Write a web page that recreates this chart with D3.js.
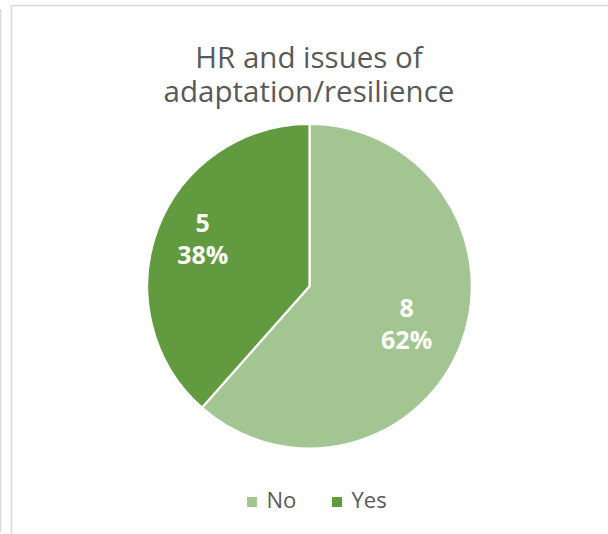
<!DOCTYPE html>
<html>
<head>
<meta charset="utf-8">
<script src="https://cdn.jsdelivr.net/npm/d3@7/dist/d3.min.js"></script>
<style>
  html, body { margin: 0; padding: 0; background: #ffffff; }
  svg { display: block; }
</style>
</head>
<body>
<svg id="chart" width="608" height="534"></svg>
<script>
// Survey answers: does HR handle issues of adaptation/resilience?
const categories = ["No", "Yes"];
const counts = [8, 5];
const titleLines = ["HR and issues of", "adaptation/resilience"];

const colors = d3.scaleOrdinal().domain(categories).range(["#A2C591", "#629A3F"]);

const W = 608, H = 534;
const svg = d3.select("#chart");

// Frame lines
svg.append("line")
  .attr("x1", 0.5).attr("x2", 0.5).attr("y1", 9).attr("y2", 532)
  .attr("stroke", "#D9D9D9").attr("stroke-width", 1.5);
svg.append("rect")
  .attr("x", 11.5).attr("y", 5.5).attr("width", W).attr("height", H)
  .attr("fill", "#ffffff").attr("stroke", "#D9D9D9").attr("stroke-width", 1.5);

// Title, one text element per line
svg.append("g")
  .selectAll("text")
  .data(titleLines)
  .join("text")
  .attr("x", 309)
  .attr("y", (d, i) => 68 + i * 34)
  .attr("text-anchor", "middle")
  .attr("font-family", "'Open Sans', sans-serif")
  .attr("font-size", 29.5)
  .attr("fill", "#595959")
  .text(d => d);

// Pie
const cx = 309.5, cy = 286.2, r = 162.3;
const data = categories.map((c, i) => ({ category: c, value: counts[i] }));
const total = d3.sum(counts);

const pie = d3.pie().value(d => d.value).sort(null);
const arcs = pie(data);
const arc = d3.arc().innerRadius(0).outerRadius(r);

const g = svg.append("g").attr("transform", `translate(${cx},${cy})`);
g.selectAll("path")
  .data(arcs)
  .join("path")
  .attr("d", arc)
  .attr("fill", d => colors(d.data.category))
  .attr("stroke", "#ffffff")
  .attr("stroke-width", 2.2)
  .attr("stroke-linejoin", "round");

// Data labels: value and share, placed along each slice's mid-angle
const labelPlace = {
  No:  { k: 0.64, dx: 0,   dy: 0 },
  Yes: { k: 0.72, dx: 2.5, dy: -6.7 }
};
const labels = g.selectAll("g.label")
  .data(arcs)
  .join("g")
  .attr("class", "label")
  .attr("transform", d => {
    const a = (d.startAngle + d.endAngle) / 2;
    const p = labelPlace[d.data.category];
    const rr = r * p.k;
    return `translate(${Math.sin(a) * rr + p.dx},${-Math.cos(a) * rr + p.dy})`;
  });

labels.append("text")
  .attr("text-anchor", "middle")
  .attr("font-family", "'Open Sans', sans-serif")
  .attr("font-weight", "bold")
  .attr("font-size", 25)
  .attr("fill", "#ffffff")
  .selectAll("tspan")
  .data(d => [String(d.data.value), Math.round(d.data.value / total * 100) + "%"])
  .join("tspan")
  .attr("x", 0)
  .attr("y", (d, i) => i === 0 ? -6 : 25.5)
  .text(d => d);

// Legend
const legendX = { No: 247, Yes: 332 };
const legend = svg.append("g");
const items = legend.selectAll("g")
  .data(categories)
  .join("g")
  .attr("transform", d => `translate(${legendX[d]},0)`);
items.append("rect")
  .attr("x", 0).attr("y", 497)
  .attr("width", 10).attr("height", 10)
  .attr("fill", d => colors(d));
items.append("text")
  .attr("x", 19.5).attr("y", 508)
  .attr("font-family", "'Open Sans', sans-serif")
  .attr("font-size", 22)
  .attr("fill", "#595959")
  .text(d => d);
</script>
</body>
</html>
